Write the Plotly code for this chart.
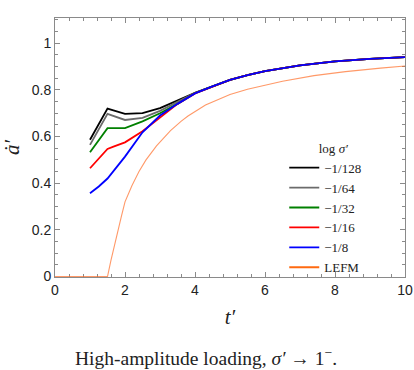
import plotly.graph_objects as go

# ---- data ----
t_black = [1, 1.5, 2, 2.5, 3, 3.5, 4]
a_black = [0.586, 0.72, 0.697, 0.70, 0.722, 0.755, 0.787]
t_gray = [1, 1.5, 2, 2.5, 3, 3.5, 4]
a_gray = [0.564, 0.697, 0.671, 0.68, 0.71, 0.748, 0.787]
t_green = [1, 1.5, 2, 2.5, 3, 3.5, 4]
a_green = [0.533, 0.636, 0.636, 0.665, 0.70, 0.74, 0.786]
t_red = [1, 1.5, 1.67, 2, 2.5, 3, 3.5, 4]
a_red = [0.464, 0.547, 0.557, 0.575, 0.623, 0.683, 0.74, 0.785]
t_blue = [1, 1.25, 1.5, 1.75, 2, 2.5, 3, 3.5, 4]
a_blue = [0.357, 0.386, 0.42, 0.465, 0.514, 0.618, 0.69, 0.74, 0.785]
t_tail = [4.5, 5, 5.5, 6, 7, 8, 9, 10]
a_tail = [0.815, 0.843, 0.863, 0.88, 0.905, 0.922, 0.933, 0.94]
t_lefm = [0, 1.5, 1.6, 1.75, 1.9, 2.0, 2.2, 2.4, 2.6, 2.9, 3.3, 3.6, 3.8, 4.3, 5.0, 5.5, 6.5, 7.4, 8.3, 9.3, 10]
a_lefm = [0, 0, 0.07, 0.17, 0.26, 0.32, 0.39, 0.45, 0.50, 0.56, 0.625, 0.665, 0.688, 0.735, 0.78, 0.803, 0.837, 0.861, 0.878, 0.893, 0.902]

labels = ["\u22121/128", "\u22121/64", "\u22121/32", "\u22121/16", "\u22121/8"]
colors = ["#000000", "#6b6b6b", "#008000", "#ff0000", "#0000ff"]
series_t = [t_black, t_gray, t_green, t_red, t_blue]
series_a = [a_black, a_gray, a_green, a_red, a_blue]

fig = go.Figure()
fig.add_trace(go.Scatter(x=t_lefm, y=a_lefm, mode="lines", name="LEFM", showlegend=False,
                         cliponaxis=False,
                         line=dict(color="rgba(255,110,40,0.7)", width=1.1)))
for lab, col, tt, aa in zip(labels, colors, series_t, series_a):
    fig.add_trace(go.Scatter(x=tt + t_tail, y=aa + a_tail, mode="lines", name=lab,
                             line=dict(color=col, width=1.8)))
fig.add_trace(go.Scatter(x=[None], y=[None], mode="lines", name="LEFM",
                         line=dict(color="#ff6a10", width=2)))

axis_common = dict(showline=True, linecolor="#8a8a8a", linewidth=1, mirror="allticks",
                   ticks="inside", ticklen=5, tickcolor="#8a8a8a", showgrid=False, zeroline=False,
                   automargin=False, layer="below traces",
                   tickfont=dict(family="Liberation Sans, Arial, sans-serif", size=14, color="#222"))
fig.update_xaxes(range=[0, 10], dtick=2, tick0=0,
                 minor=dict(ticks="inside", dtick=0.4, ticklen=3, tickcolor="#8a8a8a"),
                 title=dict(text="<i>t\u2032</i>", font=dict(family="Liberation Serif, serif", size=21, color="#222"), standoff=12),
                 **axis_common)
fig.update_yaxes(range=[-0.002, 1.108], tickvals=[0, 0.2, 0.4, 0.6, 0.8, 1],
                 ticktext=["0", "0.2", "0.4", "0.6", "0.8", "1"],
                 minor=dict(ticks="inside", tickvals=[i * 0.05 for i in range(23)], ticklen=3, tickcolor="#8a8a8a"),
                 title=dict(text="<i>\u0227\u2032</i>", font=dict(family="Liberation Serif, serif", size=21, color="#222"), standoff=12),
                 **axis_common)

fig.update_layout(
    width=414, height=370,
    margin=dict(l=55, r=9, t=18, b=93),
    paper_bgcolor="white", plot_bgcolor="white",
    showlegend=True,
    legend=dict(x=0.655, y=0.545, xanchor="left", yanchor="top",
                bgcolor="rgba(255,255,255,0)", borderwidth=0,
                font=dict(family="Liberation Serif, serif", size=13, color="#222"),
                title=dict(text="          log <i>\u03c3\u2032</i>", font=dict(family="Liberation Serif, serif", size=13, color="#222")),
                tracegroupgap=0, itemwidth=30),
    annotations=[dict(text="High-amplitude loading, <i>\u03c3\u2032</i> \u2192 1<sup>\u2212</sup>.",
                      xref="paper", yref="paper", x=0.43, y=-0.31, xanchor="center", yanchor="middle",
                      showarrow=False, font=dict(family="Liberation Serif, serif", size=19.5, color="#222"))],
)

# remove the default 8px page margin so the 414x370 figure fills the window exactly
fig.write_html("out.html", config={"displayModeBar": False},
               post_script="document.body.style.margin='0';document.body.style.overflow='hidden';")
